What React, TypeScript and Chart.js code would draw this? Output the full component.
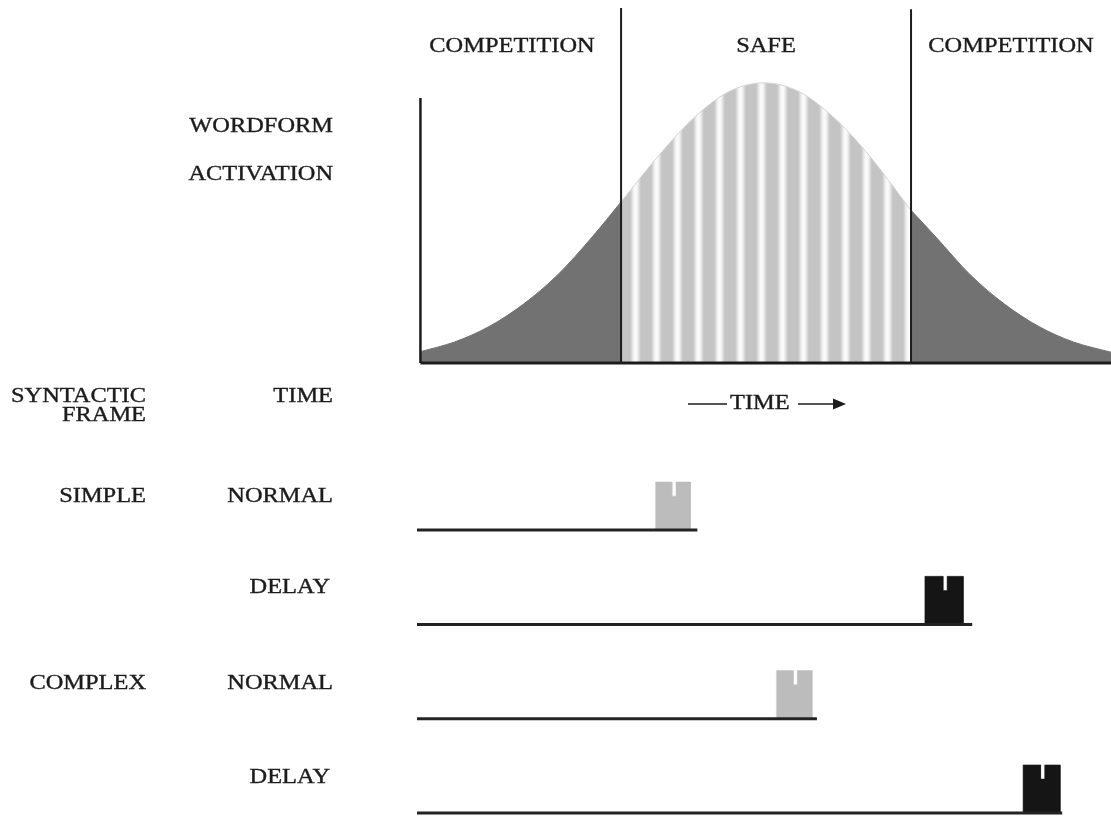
import React, { useEffect, useRef } from "react";
import { Chart, registerables } from "chart.js";

Chart.register(...registerables);

// ---- Data ----
// Wordform activation curve (time in % of window, activation in % of peak)
const activationTime = [0, 5, 10, 15, 20, 25, 29.2, 35, 40, 45, 50, 55, 60, 65, 71.4, 75, 80, 85, 90, 95, 100.5];
const activationLevel = [4, 7.5, 13, 21, 31.5, 45, 57.5, 75, 88, 97, 100, 97, 88, 75, 54.5, 45, 31.5, 21, 13, 7.5, 3.8];

// Region boundaries (safe window start / end) and region names
const safeWindow = [29.2, 71.4];
const regionLabels = ["COMPETITION", "SAFE", "COMPETITION"];

// Syntactic frame rows
const frameLabels = ["SIMPLE", "", "COMPLEX", ""];
const timingLabels = ["NORMAL", "DELAY", "NORMAL", "DELAY"];
const rowLevel = [3, 2, 1, 0];
const lineEnd = [40.3, 80.3, 57.7, 93.4];
const blockStart = [34.2, 73.4, 51.8, 87.7];
const blockEnd = [39.3, 79.0, 57.0, 93.1];

// ---- Layout constants ----
const W = 1111;
const H = 819;
const X_MIN = -0.5;
const X_MAX = 100.5;
const ACT_MIN = -162.9;
const ACT_MAX = 129.6;
const ROW_MIN = -0.0636;
const ROW_MAX = 8.621;
const AXIS_TOP = 94.6;
const DIVIDER_TOP = [126.7, 126.3];
const BLOCK_H = 0.51;
const NOTCH_D = 0.15;
const NOTCH_HW = 0.3;

const INK = "#1c1c1c";
const DARK_FILL = "#727272";
const LIGHT_BLOCK = "#bcbcbc";
const DARK_BLOCK = "#151515";
const FONT = '20px "Liberation Serif", "DejaVu Serif", serif';
const SX = 1.22;

function drawLabel(ctx: CanvasRenderingContext2D, text: string, x: number, y: number, align: CanvasTextAlign) {
  ctx.save();
  ctx.translate(x, y);
  ctx.scale(SX, 1);
  ctx.font = FONT;
  ctx.fillStyle = INK;
  ctx.strokeStyle = INK;
  ctx.lineWidth = 0.35;
  ctx.textAlign = align;
  ctx.textBaseline = "middle";
  ctx.fillText(text, 0, 0);
  ctx.strokeText(text, 0, 0);
  ctx.restore();
}

const labelPlugin = {
  id: "labels",
  afterDraw(chart: any) {
    const ctx: CanvasRenderingContext2D = chart.ctx;
    drawLabel(ctx, regionLabels[0], 512, 47, "center");
    drawLabel(ctx, regionLabels[1], 766, 47, "center");
    drawLabel(ctx, regionLabels[2], 1011, 47, "center");

    drawLabel(ctx, "WORDFORM", 333, 127, "right");
    drawLabel(ctx, "ACTIVATION", 333, 175, "right");
    drawLabel(ctx, "SYNTACTIC", 146, 397, "right");
    drawLabel(ctx, "FRAME", 146, 416, "right");
    drawLabel(ctx, "TIME", 333, 397, "right");

    const rowTextY = [497, 588, 684, 778];
    for (let i = 0; i < rowLevel.length; i++) {
      if (frameLabels[i]) drawLabel(ctx, frameLabels[i], 146, rowTextY[i], "right");
      drawLabel(ctx, timingLabels[i], timingLabels[i] === "DELAY" ? 330 : 333, rowTextY[i], "right");
    }

    // time axis caption with arrow
    ctx.save();
    ctx.strokeStyle = INK;
    ctx.fillStyle = INK;
    ctx.lineWidth = 1.6;
    ctx.beginPath();
    ctx.moveTo(688, 404);
    ctx.lineTo(727, 404);
    ctx.moveTo(798, 404);
    ctx.lineTo(836, 404);
    ctx.stroke();
    ctx.beginPath();
    ctx.moveTo(846, 404);
    ctx.lineTo(833, 398.5);
    ctx.lineTo(833, 409.5);
    ctx.closePath();
    ctx.fill();
    ctx.restore();
    drawLabel(ctx, "TIME", 730, 404, "left");
  },
};

export default function App() {
  const ref = useRef<HTMLCanvasElement | null>(null);

  useEffect(() => {
    document.body.style.margin = "0";
    const canvas = ref.current;
    if (!canvas) return;

    // vertical stripe pattern for the safe region
    const pc = document.createElement("canvas");
    pc.width = 21;
    pc.height = 2;
    const pctx = pc.getContext("2d")!;
    const shade = [250, 248, 240, 228, 214, 202, 196];
    for (let i = 0; i < 21; i++) {
      const d = Math.min(Math.abs(i - 5), 21 - Math.abs(i - 5));
      const v = shade[Math.min(d, shade.length - 1)];
      pctx.fillStyle = `rgb(${v},${v},${v})`;
      pctx.fillRect(i, 0, 1, 2);
    }
    const stripes = canvas.getContext("2d")!.createPattern(pc, "repeat")!;

    const pts = activationTime.map((t, i) => ({ x: t, y: activationLevel[i] }));
    const leftPts = pts.filter((p) => p.x <= safeWindow[0]);
    const midPts = pts.filter((p) => p.x >= safeWindow[0] && p.x <= safeWindow[1]);
    const rightPts = pts.filter((p) => p.x >= safeWindow[1]);

    const lineDs = (data: any[], width: number, axis = "yAct", color = INK) => ({
      data,
      yAxisID: axis,
      showLine: true,
      borderColor: color,
      borderWidth: width,
      pointRadius: 0,
      fill: false,
      order: 0,
    });

    const curveDs = (data: any[], bg: any, border: string) => ({
      data,
      yAxisID: "yAct",
      showLine: true,
      borderColor: border,
      backgroundColor: bg,
      borderWidth: 1,
      pointRadius: 0,
      fill: "origin",
      cubicInterpolationMode: "monotone",
      order: 5,
    });

    const datasets: any[] = [
      curveDs(leftPts, DARK_FILL, DARK_FILL),
      curveDs(midPts, stripes, "#d4d4d4"),
      curveDs(rightPts, DARK_FILL, DARK_FILL),
      lineDs([{ x: 0, y: 0 }, { x: X_MAX, y: 0 }], 3),
      lineDs([{ x: 0, y: 0 }, { x: 0, y: AXIS_TOP }], 2.5),
      lineDs([{ x: safeWindow[0], y: 0 }, { x: safeWindow[0], y: DIVIDER_TOP[0] }], 2),
      lineDs([{ x: safeWindow[1], y: 0 }, { x: safeWindow[1], y: DIVIDER_TOP[1] }], 2),
    ];

    for (let i = 0; i < rowLevel.length; i++) {
      const r = rowLevel[i];
      const s = blockStart[i];
      const e = blockEnd[i];
      const m = (s + e) / 2 + 0.15;
      const top = r + BLOCK_H;
      const col = timingLabels[i] === "DELAY" ? DARK_BLOCK : LIGHT_BLOCK;
      datasets.push({
        data: [
          { x: s, y: r },
          { x: s, y: top },
          { x: m - NOTCH_HW, y: top },
          { x: m - NOTCH_HW, y: top - NOTCH_D },
          { x: m + NOTCH_HW, y: top - NOTCH_D },
          { x: m + NOTCH_HW, y: top },
          { x: e, y: top },
          { x: e, y: r },
        ],
        yAxisID: "yRow",
        showLine: true,
        borderColor: col,
        backgroundColor: col,
        borderWidth: 0.5,
        pointRadius: 0,
        fill: { value: r },
        order: 3,
      });
      datasets.push(lineDs([{ x: X_MIN, y: r }, { x: lineEnd[i], y: r }], 3, "yRow", "#232323"));
    }

    const chart = new Chart(canvas, {
      type: "scatter",
      data: { datasets },
      options: {
        animation: false,
        responsive: false,
        maintainAspectRatio: false,
        events: [],
        layout: { padding: { left: 417, right: 0, top: 0, bottom: 0 } },
        plugins: { legend: { display: false }, tooltip: { enabled: false }, title: { display: false } },
        scales: {
          x: { type: "linear", min: X_MIN, max: X_MAX, display: false },
          yAct: { type: "linear", min: ACT_MIN, max: ACT_MAX, display: false },
          yRow: { type: "linear", min: ROW_MIN, max: ROW_MAX, display: false },
        },
      } as any,
      plugins: [labelPlugin],
    });

    return () => chart.destroy();
  }, []);

  return (
    <div style={{ position: "absolute", left: 0, top: 0, width: W, height: H, background: "#fff" }}>
      <canvas ref={ref} width={W} height={H} style={{ display: "block" }} />
    </div>
  );
}
